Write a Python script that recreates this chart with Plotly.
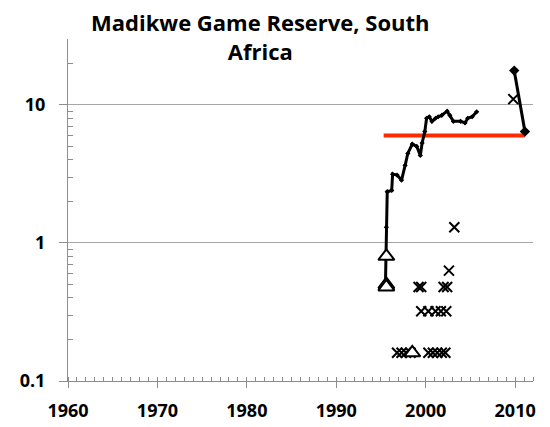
import plotly.graph_objects as go

# wild dog count, main series (jagged line)
line_years = [1995.5, 1995.6, 1995.7, 1996.2, 1996.3, 1996.8, 1997.3, 1997.7, 1998.0, 1998.5,
              1999.0, 1999.4, 1999.6, 1999.9, 2000.1, 2000.4, 2000.7, 2001.1, 2001.4, 2001.8,
              2002.4, 2002.7, 2003.1, 2003.9, 2004.4, 2004.7, 2005.2, 2005.7]
line_vals = [0.5, 1.3, 2.35, 2.4, 3.15, 3.1, 2.85, 3.65, 4.45, 5.2,
             5.0, 4.3, 5.3, 6.4, 8.0, 8.2, 7.6, 8.0, 8.2, 8.4,
             9.0, 8.4, 7.6, 7.6, 7.4, 8.0, 8.2, 8.9]

late_years = [2009.9, 2011.1]
late_vals = [17.7, 6.4]

tri_years = [1995.6, 1995.6, 1995.6, 1998.5]
tri_vals = [0.8, 0.5, 0.48, 0.16]

x_years = [1996.8, 1997.3, 1997.8, 1998.3, 2000.3, 2000.8, 2001.3, 2001.8, 2002.2,
           1999.5, 2000.3, 2001.1, 2001.7, 2002.3,
           1999.2, 1999.5, 2002.0, 2002.4,
           2002.6, 2003.2, 2009.8]
x_vals = [0.16, 0.16, 0.16, 0.16, 0.16, 0.16, 0.16, 0.16, 0.16,
          0.32, 0.32, 0.32, 0.32, 0.32,
          0.48, 0.48, 0.48, 0.48,
          0.63, 1.3, 11.0]

ref_years = [1995.3, 2011.1]
ref_vals = [6.0, 6.0]

x_ticks = [1960, 1970, 1980, 1990, 2000, 2010]
y_ticks = [0.1, 1, 10]
y_ticktext = ["0.1", "1", "10"]
y_minor = [0.2, 0.3, 0.4, 0.5, 0.6, 0.7, 0.8, 0.9,
           2, 3, 4, 5, 6, 7, 8, 9, 20]

fig = go.Figure()

fig.add_trace(go.Scatter(x=ref_years, y=ref_vals, mode="lines",
                         line={"color": "#ff2a00", "width": 4}))

fig.add_trace(go.Scatter(x=line_years, y=line_vals, mode="lines+markers",
                         line={"color": "black", "width": 3},
                         marker={"symbol": "diamond", "size": 4, "color": "black"}))

fig.add_trace(go.Scatter(x=late_years, y=late_vals, mode="lines+markers",
                         line={"color": "black", "width": 3},
                         marker={"symbol": "diamond", "size": 8, "color": "black"}))

fig.add_trace(go.Scatter(x=x_years, y=x_vals, mode="markers",
                         marker={"symbol": "x-thin", "size": 10,
                                 "line": {"color": "black", "width": 2}}))

fig.add_trace(go.Scatter(x=tri_years, y=tri_vals, mode="markers",
                         marker={"symbol": "triangle-up", "size": 14, "color": "white",
                                 "line": {"color": "black", "width": 2}}))

# the page body adds an 8px offset, margins compensate for it
fig.update_layout(
    width=550, height=427,
    margin={"l": 58, "r": 25, "t": 31, "b": 54},
    plot_bgcolor="white", paper_bgcolor="white",
    showlegend=False,
    font={"family": "Open Sans", "color": "black"},
    annotations=[{"text": "<b>Madikwe Game Reserve, South<br>Africa</b>",
                  "xref": "paper", "yref": "paper",
                  "x": 0.415, "xanchor": "center",
                  "y": 1.1, "yanchor": "top",
                  "showarrow": False,
                  "font": {"size": 22, "color": "black"}}],
)

fig.update_xaxes(
    range=[1960, 2012],
    tickvals=x_ticks,
    ticks="outside", ticklen=6, tickcolor="#8c8c8c",
    showline=True, linecolor="#8c8c8c", linewidth=1,
    showgrid=False, zeroline=False,
    tickfont={"size": 18, "weight": "bold"},
    ticklabelstandoff=7,
    minor={"dtick": 1, "ticks": "inside", "ticklen": 4, "tickcolor": "#8c8c8c"},
)

fig.update_yaxes(
    type="log", range=[-1, 1.477],
    tickvals=y_ticks, ticktext=y_ticktext,
    ticks="outside", ticklen=8, tickcolor="#8c8c8c",
    showline=True, linecolor="#8c8c8c", linewidth=1,
    showgrid=True, gridcolor="#a6a6a6", gridwidth=1,
    zeroline=False,
    tickfont={"size": 18, "weight": "bold"},
    ticklabelstandoff=10,
    minor={"tickvals": y_minor, "ticks": "inside", "ticklen": 5,
           "tickcolor": "#8c8c8c", "showgrid": False},
)

fig.write_html("out.html")
